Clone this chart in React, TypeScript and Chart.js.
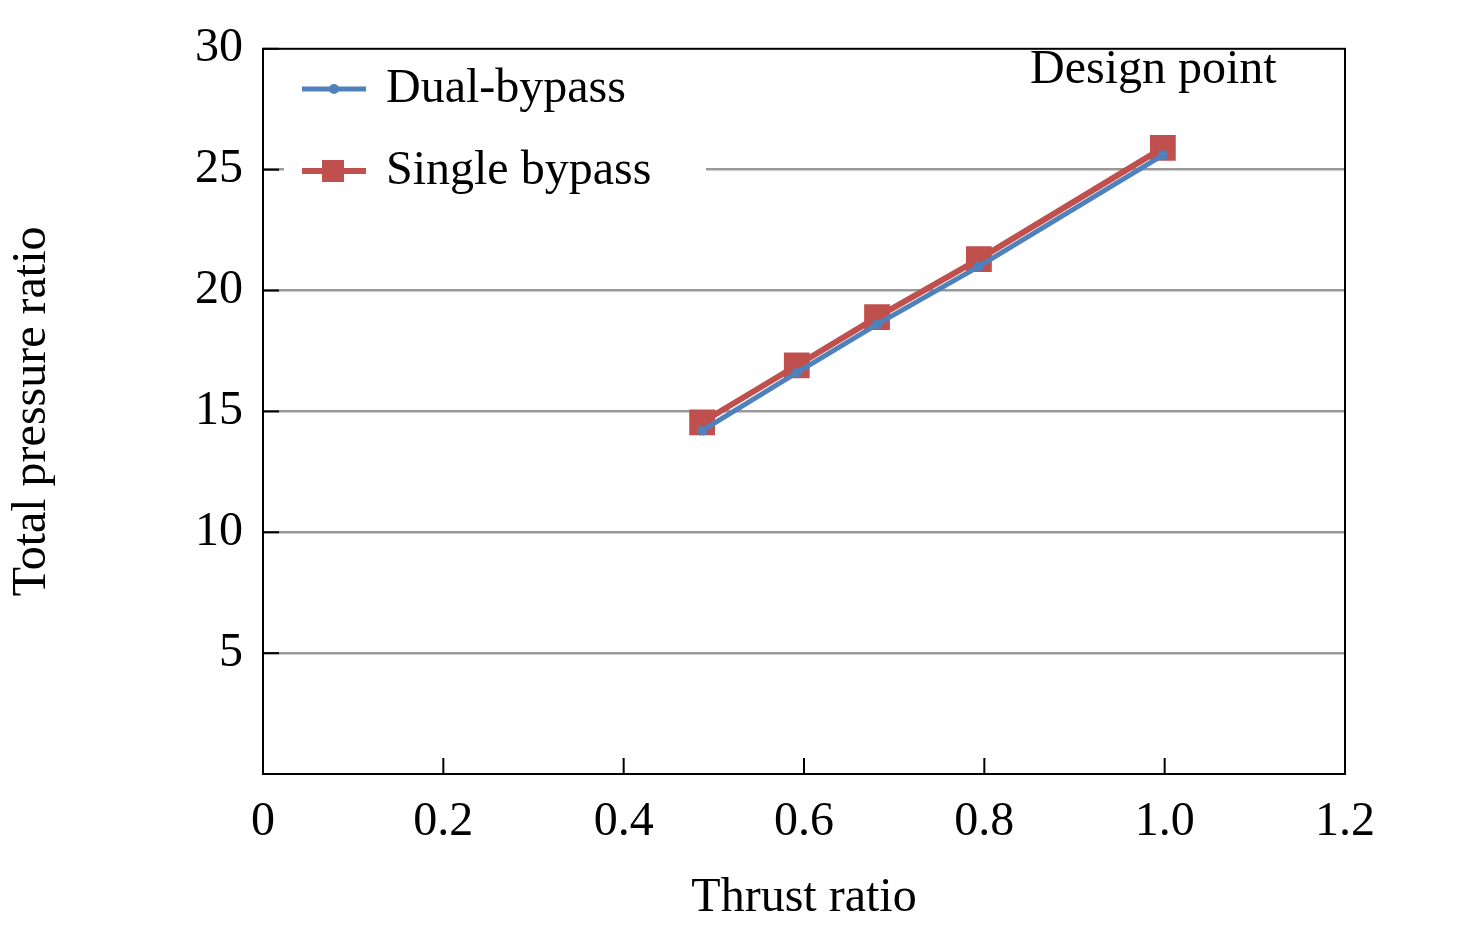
import React, { useEffect, useRef } from "react";
import { Chart, registerables } from "chart.js";
Chart.register(...registerables);

const thrust = [0.487, 0.592, 0.681, 0.794, 0.998];
const dualBypass = [14.2, 16.6, 18.6, 21.0, 25.6];
const singleBypass = [14.55, 16.9, 18.9, 21.3, 25.9];
const xTicks = [0, 0.2, 0.4, 0.6, 0.8, 1.0, 1.2];
const yTicks = [5, 10, 15, 20, 25, 30];
const FONT = "'Liberation Serif', 'Times New Roman', serif";

const overlay = {
  id: "overlay",
  afterDraw(chart: any) {
    const { ctx, chartArea: a, scales } = chart;
    ctx.save();
    ctx.font = `48px ${FONT}`;
    ctx.fillStyle = "#000";
    ctx.textBaseline = "middle";
    ctx.fillText("Design point", 1030, 70);
    ctx.fillStyle = "#fff";
    ctx.fillRect(284, 40, 422, 165);
    ctx.strokeStyle = "#000";
    ctx.lineWidth = 2;
    ctx.strokeRect(a.left, a.top, a.right - a.left, a.bottom - a.top);
    xTicks.forEach((v) => {
      const x = scales.x.getPixelForValue(v);
      ctx.beginPath(); ctx.moveTo(x, a.bottom); ctx.lineTo(x, a.bottom - 16); ctx.stroke();
    });
    yTicks.forEach((v) => {
      const y = scales.y.getPixelForValue(v);
      ctx.beginPath(); ctx.moveTo(a.left, y); ctx.lineTo(a.left + 16, y); ctx.stroke();
    });
    const items = [
      { label: "Dual-bypass", color: "#4f81bd", y: 89, sq: false },
      { label: "Single bypass", color: "#c0504d", y: 171, sq: true },
    ];
    items.forEach((it) => {
      ctx.strokeStyle = it.color; ctx.lineWidth = it.sq ? 6 : 5;
      ctx.beginPath(); ctx.moveTo(302, it.y); ctx.lineTo(366, it.y); ctx.stroke();
      ctx.fillStyle = it.color;
      if (it.sq) ctx.fillRect(322, it.y - 11, 22, 22);
      else { ctx.beginPath(); ctx.arc(334, it.y, 5, 0, Math.PI * 2); ctx.fill(); }
      ctx.fillStyle = "#000";
      ctx.fillText(it.label, 386, it.y);
    });
    ctx.restore();
  },
};

export default function App() {
  const ref = useRef<HTMLCanvasElement>(null);
  useEffect(() => {
    const chart = new Chart(ref.current!, {
      type: "scatter",
      data: {
        datasets: [
          {
            label: "Dual-bypass",
            data: thrust.map((x, i) => ({ x, y: dualBypass[i] })),
            showLine: true, borderColor: "#4f81bd", backgroundColor: "#4f81bd",
            borderWidth: 5, pointRadius: 5, pointStyle: "crossRot",
          },
          {
            label: "Single bypass",
            data: thrust.map((x, i) => ({ x, y: singleBypass[i] })),
            showLine: true, borderColor: "#c0504d", backgroundColor: "#c0504d",
            borderWidth: 6, pointRadius: 14, pointStyle: "rect",
          },
        ],
      },
      options: {
        animation: false, responsive: false,
        layout: { padding: { top: 8, right: 131 } },
        plugins: { legend: { display: false }, tooltip: { enabled: false } },
        scales: {
          x: {
            type: "linear", min: 0, max: 1.2,
            afterBuildTicks: (s: any) => { s.ticks = xTicks.map((v) => ({ value: v })); },
            afterFit: (s: any) => { s.height = 157; },
            grid: { display: false }, border: { display: false },
            ticks: { color: "#000", padding: 12, font: { family: FONT, size: 48 },
              callback: (v: any) => (v === 0 ? "0" : Number(v).toFixed(1)) },
            title: { display: true, text: "Thrust ratio", color: "#000", font: { family: FONT, size: 48 }, padding: { top: 0 } },
          },
          y: {
            min: 0, max: 30,
            afterBuildTicks: (s: any) => { s.ticks = yTicks.map((v) => ({ value: v })); },
            afterFit: (s: any) => { s.width = 263; },
            grid: { color: (c: any) => (c.tick && c.tick.value === 30 ? "rgba(0,0,0,0)" : "#999"), lineWidth: 2.5, drawTicks: false },
            border: { display: false },
            ticks: { color: "#000", padding: 20, font: { family: FONT, size: 48 } },
            title: { display: true, text: "Total pressure ratio", color: "#000", font: { family: FONT, size: 48 }, padding: { bottom: 0 } },
          },
        },
      },
      plugins: [overlay],
    });
    return () => chart.destroy();
  }, []);
  return (
    <div style={{ position: "fixed", left: 0, top: 0, background: "#fff" }}>
      <canvas ref={ref} width={1476} height={931} style={{ width: 1476, height: 931, display: "block" }} />
    </div>
  );
}
